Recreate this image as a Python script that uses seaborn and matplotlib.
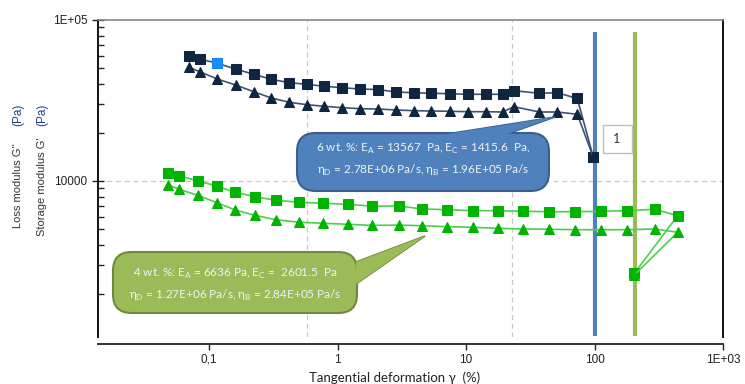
import numpy as np
import pandas as pd
import matplotlib.pyplot as plt
import seaborn as sns
from matplotlib.patches import FancyBboxPatch, Polygon, Rectangle
from matplotlib.ticker import FixedLocator, LogLocator, NullFormatter

# 6 wt.% sample (navy)
strain_6 = [0.0699, 0.0847, 0.116, 0.161, 0.223, 0.305, 0.422, 0.576, 0.789, 1.09,
            1.50, 2.07, 2.85, 3.92, 5.37, 7.47, 10.3, 14.2, 19.3, 23.6, 37.2, 51.3,
            73.5, 97.9]
storage_6 = [60030, 57250, 53840, 49620, 45990, 42820, 40790, 39860, 38740, 37970,
             37270, 37000, 35700, 35350, 35050, 34850, 34550, 34550, 34550, 36390,
             35050, 35350, 32540, 14040]
loss_6 = [50840, 47740, 43000, 39470, 35860, 32780, 30820, 29780, 29110, 28530,
          28120, 28000, 27610, 27330, 27210, 27100, 26940, 26940, 26830, 28940,
          26830, 26830, 25960, 14040]

# 4 wt.% sample (green)
strain_4 = [0.0482, 0.0587, 0.0817, 0.115, 0.160, 0.228, 0.330, 0.504, 0.771, 1.21,
            1.87, 3.00, 4.55, 7.15, 11.3, 17.7, 27.8, 44.3, 70.5, 113, 180, 294,
            444, 204]
storage_4 = [11160, 10790, 10000, 9310, 8510, 7990, 7590, 7375, 7270, 7165, 6980,
             6995, 6700, 6633, 6540, 6540, 6483, 6446, 6446, 6483, 6540, 6672,
             6088, 2671]
loss_4 = [9445, 8880, 8150, 7334, 6605, 6124, 5750, 5540, 5462, 5383, 5300, 5320,
          5277, 5201, 5157, 5084, 5034, 5017, 4983, 4983, 4983, 5034, 4801, 2607]

highlight_index = 2
limit_strain = {"6 wt.%": 100, "4 wt.%": 205}
grid_strain = [0.58, 23]

x_ticks = [0.1, 1, 10, 100, 1000]
x_tick_labels = ["0,1", "1", "10", "100", "1E+03"]
y_ticks = [10000, 100000]
y_tick_labels = ["10000", "1E+05"]

text_6 = ["6 wt. %: E$_\\mathregular{A}$ = 13567  Pa, E$_\\mathregular{C}$ = 1415.6  Pa,",
          "$\\mathregular{\\eta}_\\mathregular{D}$ = 2.78E+06 Pa/s, "
          "$\\mathregular{\\eta}_\\mathregular{B}$ = 1.96E+05 Pa/s"]
text_4 = ["4 wt. %: E$_\\mathregular{A}$ = 6636 Pa, E$_\\mathregular{C}$ =  2601.5  Pa",
          "$\\mathregular{\\eta}_\\mathregular{D}$ = 1.27E+06 Pa/s, "
          "$\\mathregular{\\eta}_\\mathregular{B}$ = 2.84E+05 Pa/s"]

W, H = 745, 384
NAVY = "#0f2540"
NAVY_LINE = "#3c5474"
GREEN = "#00b400"
GREEN_LINE = "#4ccf4c"
BLUE_BOX = "#4f81bd"
GREEN_BOX = "#9bbb59"


def fx(px):
    return px / W


def fy(py):
    return 1 - py / H


def callout(fig, box, tail, fill, edge, lines, text_y):
    x0, y0, x1, y1 = box
    tail_pts = [(fx(a), fy(b)) for a, b in tail]
    fig.patches.append(Polygon(tail_pts, closed=True, facecolor=fill, edgecolor=edge,
                               linewidth=1.2, transform=fig.transFigure))
    fig.patches.append(FancyBboxPatch((fx(x0), fy(y1)), fx(x1) - fx(x0), fy(y0) - fy(y1),
                                      boxstyle="round,pad=0,rounding_size=0.025",
                                      mutation_aspect=W / H,
                                      facecolor=fill, edgecolor=edge, linewidth=1.5,
                                      transform=fig.transFigure))
    # cover the box border where the tail joins
    fig.patches.append(Polygon(tail_pts, closed=True, facecolor=fill, edgecolor="none",
                               transform=fig.transFigure))
    cx = (x0 + x1) / 2
    for line, ty in zip(lines, text_y):
        fig.text(fx(cx), fy(ty), line, ha="center", va="center", color="#eef2f8",
                 fontsize=8.5, family=["Lato", "DejaVu Sans"])


sns.set_style("white")
plt.rcParams["font.family"] = ["Liberation Sans", "DejaVu Sans"]
plt.rcParams["mathtext.fontset"] = "custom"
plt.rcParams["mathtext.rm"] = "Lato"

fig = plt.figure(figsize=(W / 100, H / 100), dpi=100)
ax = fig.add_axes([fx(98), fy(337), fx(723) - fx(98), fy(20) - fy(337)])

ax.set_xscale("log")
ax.set_yscale("log")
ax.set_xlim(0.01368, 1000)
ax.set_ylim(1074, 100000)

for gx in grid_strain:
    ax.axvline(gx, color="#c8c8c8", linestyle=(0, (4, 3)), linewidth=0.9, zorder=0)
ax.axhline(10000, color="#c8c8c8", linestyle=(0, (4, 3)), linewidth=0.9, zorder=0)

ax.vlines(limit_strain["6 wt.%"], 1090, 84000, color=BLUE_BOX, linewidth=3, zorder=1)
ax.vlines(limit_strain["4 wt.%"], 1090, 84000, color=GREEN_BOX, linewidth=3, zorder=1)

df6 = pd.DataFrame({"strain": strain_6, "storage": storage_6, "loss": loss_6})
df4 = pd.DataFrame({"strain": strain_4, "storage": storage_4, "loss": loss_4})

sns.lineplot(data=df6, x="strain", y="storage", sort=False, ax=ax, color=NAVY_LINE,
             linewidth=1.2, marker="s", markersize=7.5, markerfacecolor=NAVY,
             markeredgecolor=NAVY, zorder=3)
sns.lineplot(data=df6, x="strain", y="loss", sort=False, ax=ax, color=NAVY_LINE,
             linewidth=1.2, marker="^", markersize=7, markerfacecolor=NAVY,
             markeredgecolor=NAVY, zorder=3)
sns.lineplot(data=df4, x="strain", y="storage", sort=False, ax=ax, color=GREEN_LINE,
             linewidth=1.2, marker="s", markersize=7.5, markerfacecolor=GREEN,
             markeredgecolor=GREEN, zorder=3)
sns.lineplot(data=df4, x="strain", y="loss", sort=False, ax=ax, color=GREEN_LINE,
             linewidth=1.2, marker="^", markersize=7, markerfacecolor=GREEN,
             markeredgecolor=GREEN, zorder=3)
sns.scatterplot(x=[strain_6[highlight_index]], y=[storage_6[highlight_index]], ax=ax,
                marker="s", s=56, color="#1a8cff", edgecolor="#1a8cff", zorder=4)

ax.xaxis.set_major_locator(FixedLocator(x_ticks))
ax.set_xticklabels(x_tick_labels)
ax.xaxis.set_minor_locator(LogLocator(base=10, subs=np.arange(2, 10)))
ax.xaxis.set_minor_formatter(NullFormatter())
ax.yaxis.set_major_locator(FixedLocator(y_ticks))
ax.set_yticklabels(y_tick_labels)
ax.yaxis.set_minor_locator(LogLocator(base=10, subs=np.arange(2, 10)))
ax.yaxis.set_minor_formatter(NullFormatter())

ax.tick_params(axis="x", which="major", direction="out", length=4, width=1,
               labelsize=8.5, colors="#222222", pad=3)
ax.tick_params(axis="x", which="minor", direction="out", length=2, width=0.8)
ax.tick_params(axis="y", which="major", direction="inout", length=8, width=1,
               labelsize=8.5, colors="#222222", left=True)
ax.tick_params(axis="y", which="minor", direction="in", length=4, width=1, left=True)
ax.tick_params(axis="x", bottom=True)

ax.spines["bottom"].set_position(("outward", 5))
ax.spines["bottom"].set_color("#333333")
ax.spines["bottom"].set_linewidth(1.4)
ax.spines["left"].set_color("#111111")
ax.spines["left"].set_linewidth(1.4)
ax.spines["right"].set_color("#111111")
ax.spines["right"].set_linewidth(1.4)
ax.spines["top"].set_color("#888888")
ax.spines["top"].set_linewidth(1.2)

ax.set_xlabel("")
ax.set_ylabel("")
fig.text(fx(395), fy(378), "Tangential deformation \u03b3  (%)", ha="center", va="center",
         fontsize=9.5, color="#222222", family=["Lato", "DejaVu Sans"])

fig.text(fx(18), fy(228), "Loss modulus G''", rotation=90, ha="center", va="bottom",
         fontsize=8, color="#333333")
fig.text(fx(18), fy(104), "(Pa)", rotation=90, ha="center", va="top",
         fontsize=8.5, color="#1f3f8c")
fig.text(fx(42), fy(236), "Storage modulus G'", rotation=90, ha="center", va="bottom",
         fontsize=8, color="#333333")
fig.text(fx(42), fy(104), "(Pa)", rotation=90, ha="center", va="top",
         fontsize=8.5, color="#1f3f8c")

callout(fig, (297, 133, 549, 191), [(447, 134), (555, 117), (507, 134)],
        BLUE_BOX, "#3a5f8f", text_6, [149, 170])
callout(fig, (113, 252, 357, 313), [(356, 262), (425, 236), (356, 284)],
        GREEN_BOX, "#71893f", text_4, [274, 295])

fig.patches.append(Rectangle((fx(603), fy(153)), fx(632) - fx(603), fy(125) - fy(153),
                             facecolor="white", edgecolor="#bfbfbf", linewidth=1,
                             transform=fig.transFigure))
fig.text(fx(617), fy(139), "1", ha="center", va="center", fontsize=9, color="#333333",
         family=["Lato", "DejaVu Sans"])

fig.savefig("out.png", dpi=100)
